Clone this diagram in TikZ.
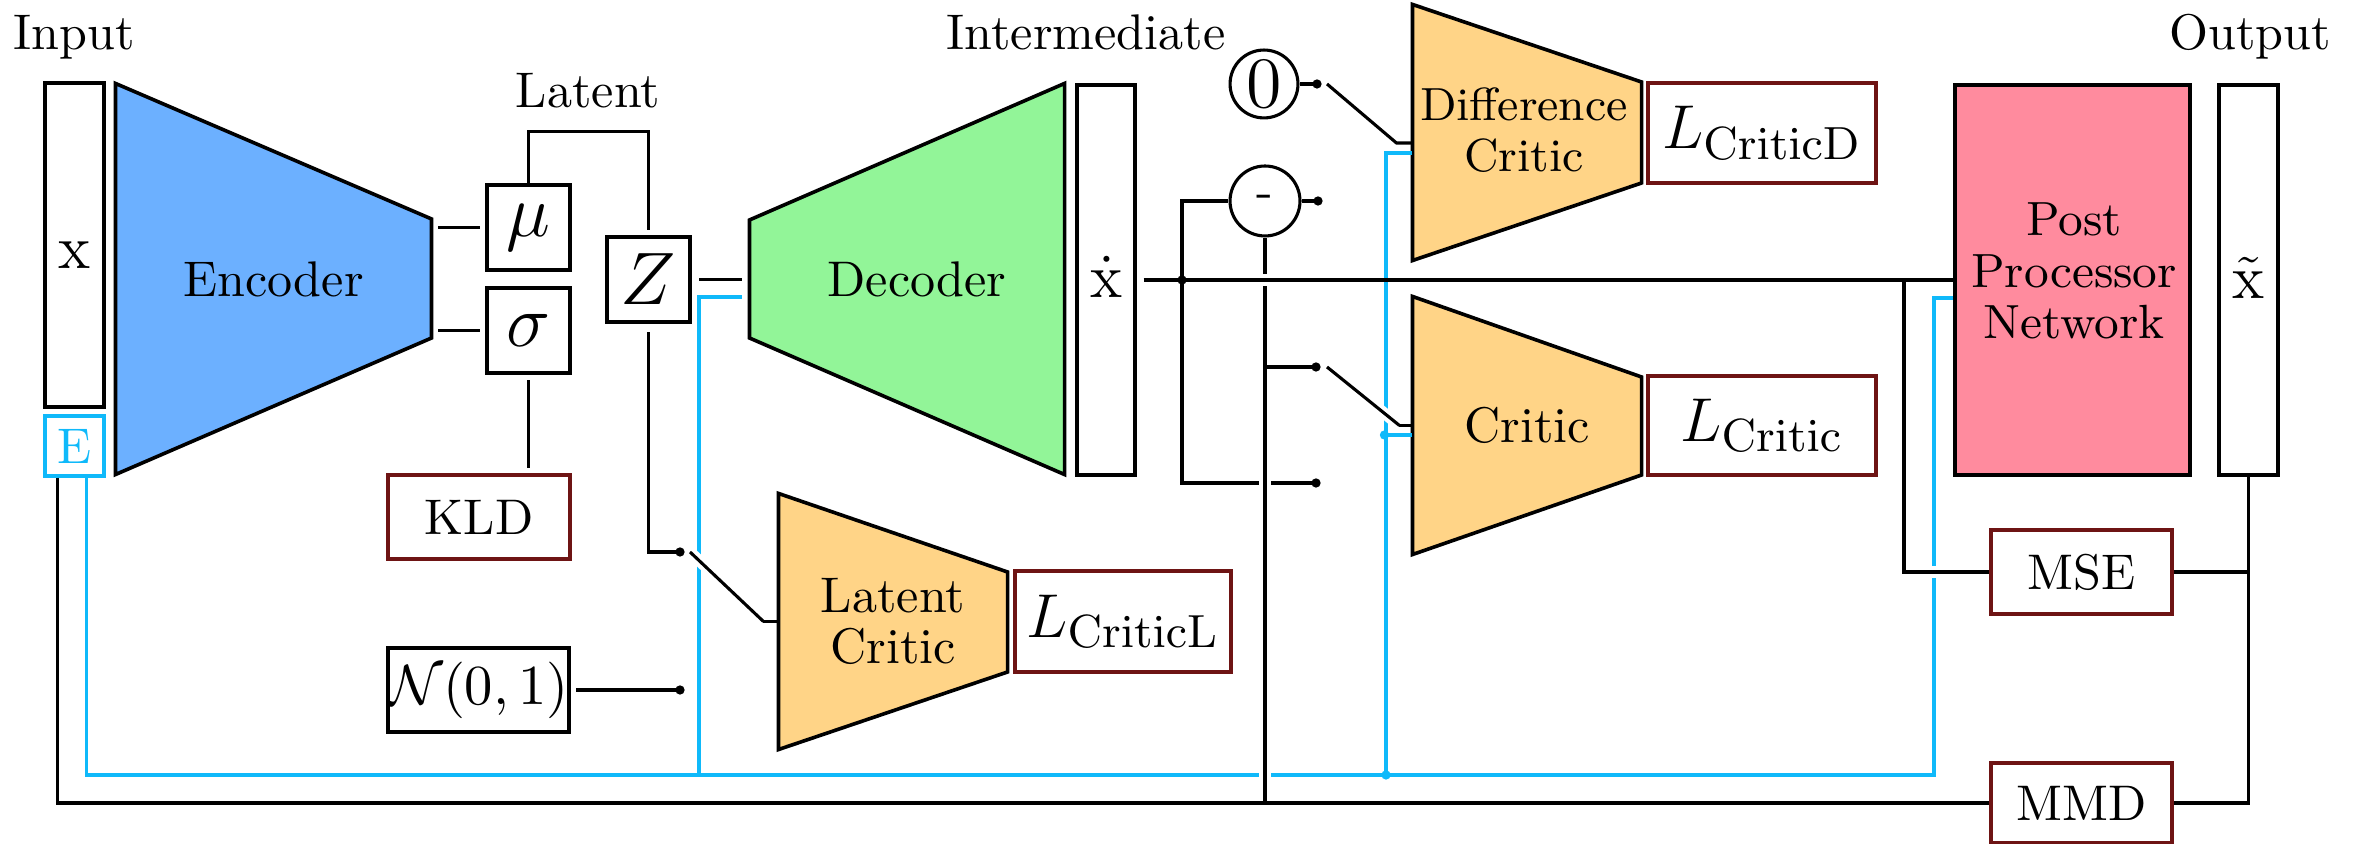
\documentclass[tikz,border=0pt]{standalone}
\usetikzlibrary{fit,calc}
\definecolor{encblue}{RGB}{108,176,255}
\definecolor{decgreen}{RGB}{146,245,152}
\definecolor{critorange}{RGB}{255,212,135}
\definecolor{ppnpink}{RGB}{255,139,158}
\definecolor{cyanc}{RGB}{15,185,250}
\definecolor{lossred}{RGB}{110,20,20}
\newcommand{\crossH}[2]{%
  \draw[white,line width=2.2pt] ($(#1)+(-6,0)$) -- ($(#1)+(6,0)$);
  \draw[#2] ($(#1)+(-8,0)$) -- ($(#1)+(8,0)$);}
\newcommand{\crossV}[2]{%
  \draw[white,line width=2.2pt] ($(#1)+(0,-6)$) -- ($(#1)+(0,6)$);
  \draw[#2] ($(#1)+(0,-8)$) -- ($(#1)+(0,8)$);}
\begin{document}
\begin{tikzpicture}[x=0.0068cm,y=-0.0068cm,line width=0.6pt,
  box/.style={draw,inner sep=0pt,line width=0.6pt},
  sz/.style 2 args={minimum width=#1*0.0068cm,minimum height=#2*0.0068cm},
  lossbox/.style={box,draw=lossred},
  region/.style={inner sep=0pt},
  trap/.style={draw,line width=0.7pt,line join=miter},
  conn/.style={draw=black,line width=0.6pt},
  cyanline/.style={draw=cyanc,line width=0.6pt},
  sgap/.style={shorten <=#1},
  egap/.style={shorten >=#1},
  bridge/.style={preaction={draw=white,line width=2.2pt}},
  txt/.style={font=\fontsize{9.7}{10}\selectfont},
  mathlbl/.style={font=\fontsize{13}{15}\selectfont},
  biglbl/.style={font=\fontsize{15}{17}\selectfont}]
\useasboundingbox (0,0) rectangle (2356,844);

% ---------- trapezoid regions ----------
\node[region,fit={(117,85)(430,473)}] (enc) {};
\node[region,fit={(751,85)(1063,473)}] (dec) {};
\node[region,fit={(780,495)(1006,748)}] (lc) {};
\node[region,fit={(1414,6)(1640,259)}] (dc) {};
\node[region,fit={(1414,298)(1640,553)}] (cr) {};

\draw[trap,fill=encblue] (enc.north west) -- ($(enc.east)+(0,-60)$) -- ($(enc.east)+(0,59)$) -- (enc.south west) -- cycle;
\draw[trap,fill=decgreen] ($(dec.west)+(0,-59)$) -- (dec.north east) -- (dec.south east) -- ($(dec.west)+(0,59)$) -- cycle;
\draw[trap,fill=critorange] (lc.north west) -- ($(lc.east)+(0,-49.5)$) -- ($(lc.east)+(0,50.5)$) -- (lc.south west) -- cycle;
\draw[trap,fill=critorange] (dc.north west) -- ($(dc.east)+(0,-50.5)$) -- ($(dc.east)+(0,50.5)$) -- (dc.south west) -- cycle;
\draw[trap,fill=critorange] (cr.north west) -- ($(cr.east)+(0,-48.5)$) -- ($(cr.east)+(0,49.5)$) -- (cr.south west) -- cycle;

\node[txt] (enclbl) at (enc) {Encoder};
\node[txt] (declbl) at ($(dec)+(10,0)$) {Decoder};
\node[txt,align=center] (lclbl) at (lc) {Latent\\Critic};
\node[font=\fontsize{9}{9.9}\selectfont,align=center] (dclbl) at ($(dc)+(-3,-2)$) {Difference\\Critic};
\node[txt] (crlbl) at (cr) {Critic};

% ---------- titles ----------
\node[txt,anchor=base] (inlbl) at (74,50) {Input};
\node[txt,anchor=base] (latlbl) at (588,108) {Latent};
\node[txt,anchor=base] (intlbl) at (1086,50) {Intermediate};
\node[txt,anchor=base] (outlbl) at (2250,50) {Output};

% ---------- boxes ----------
\node[box,sz={59}{324}] (xin) at (74.5,245) {};
\node[mathlbl,anchor=base] (xinlbl) at (75,269) {$\mathrm{x}$};
\node[box,draw=cyanc,text=cyanc,sz={59}{60},txt] (ein) at (74.5,446) {E};
\node[box,sz={83}{85},biglbl] (mu) at (528.5,227.5) {$\mu$};
\node[box,sz={83}{85},biglbl] (sigma) at (528.5,330.5) {$\sigma$};
\node[box,sz={83}{85},biglbl] (Z) at (648.5,279.5) {$Z$};
\node[lossbox,sz={182}{84},txt] (kld) at (479,517) {KLD};
\node[box,sz={181}{84},font=\fontsize{11}{13}\selectfont] (N) at (478.5,690) {$\mathcal{N}(0,1)$};
\node[lossbox,sz={216}{101},mathlbl] (lcl) at (1123,621.5) {$L_{\mathrm{CriticL}}$};
\node[box,sz={58}{390}] (xdot) at (1106,280) {};
\node[mathlbl,anchor=base] (xdotlbl) at (1107,298) {$\dot{\mathrm{x}}$};
\node[box,circle,minimum size=0.462cm,font=\fontsize{14}{16}\selectfont] (zero) at (1264,84) {0};
\node[box,circle,minimum size=0.476cm,txt] (minus) at (1265,201) {-};
\node[lossbox,sz={228}{100},mathlbl] (lcd) at (1762,133) {$L_{\mathrm{CriticD}}$};
\node[lossbox,sz={228}{99},mathlbl] (lcr) at (1762,425.5) {$L_{\mathrm{Critic}}$};
\node[box,fill=ppnpink,sz={235}{390}] (ppn) at (2072.5,280) {};
\node[align=center,font=\fontsize{9.3}{10}\selectfont] (ppnlbl) at (2074,271) {Post\\Processor\\Network};
\node[box,sz={59}{390}] (xt) at (2248.5,280) {};
\node[mathlbl,anchor=base] (xtlbl) at (2249,299) {$\tilde{\mathrm{x}}$};
\node[lossbox,sz={181}{84},txt] (mse) at (2081.5,572) {MSE};
\node[lossbox,sz={181}{80},txt] (mmd) at (2081.5,803) {MMD};

% ---------- switch points ----------
\coordinate (swl) at (680,552);
\coordinate (swn) at (680,690);
\coordinate (br) at (1182,280);
\coordinate (swd0) at (1317,84);
\coordinate (swd1) at (1318,201);
\coordinate (swc0) at (1316,367);
\coordinate (swc1) at (1316,483);
\coordinate (mbr) at (1904,280);
\coordinate (cybus) at (1934,775);
\coordinate (cyj1) at (699,775);
\coordinate (cyj2) at (1386,775);

% ---------- cyan lines ----------
\draw[cyanline] ($(ein.south west)+(43,0)$) |- (cybus) |- ($(ppn.west)+(0,18)$);
\draw[cyanline,sgap=0.054cm] ($(dec.west)+(0,18)$) -| (cyj1);
\draw[cyanline] ($(dc.west)+(0,20.5)$) -| (cyj2);
\draw[cyanline] ($(cr.west)+(0,9.5)$) -- ($(cr.west)+(-28,9.5)$);

% ---------- black connectors ----------
\draw[conn,sgap=0.045cm,egap=0.035cm] (enc.east |- mu.west) -- (mu.west);
\draw[conn,sgap=0.045cm,egap=0.035cm] (enc.east |- sigma.west) -- (sigma.west);
\draw[conn,egap=0.035cm] (mu.north) -- ++(0,-52) -| (Z.north);
\draw[conn,sgap=0.04cm,egap=0.035cm] (sigma.south) -- (sigma.south |- kld.north);
\draw[conn,sgap=0.054cm,egap=0.054cm] (Z.east) -- (Z.east -| dec.west);
\draw[conn,sgap=0.06cm] (Z.south) |- (swl);
\draw[conn,sgap=0.04cm] (N.east) -- (swn);
\draw[conn,bridge] ($(swl)+(10,0)$) -- ($(lc.west)+(-15,0)$);
\draw[conn] ($(lc.west)+(-15,0)$) -- (lc.west);

\draw[conn,sgap=0.048cm] (xdot.east) -- (ppn.west);
\draw[conn] (br) |- (minus.west);
\draw[conn] (br) |- (swc1);
\draw[conn] (zero.east) -- (swd0);
\draw[conn] (minus.east) -- (swd1);
\draw[conn] (minus.south) -- (minus.south |- mmd.west);
\draw[conn] (minus.south |- swc0) -- (swc0);
\draw[conn] ($(swd0)+(10,0)$) -- ($(dc.west)+(-16,10.5)$) -- ($(dc.west)+(0,10.5)$);
\draw[conn,bridge] ($(swc0)+(11,0)$) -- ($(cr.west)+(-13,0)$);
\draw[conn] ($(cr.west)+(-13,0)$) -- (cr.west);

\draw[conn] (mbr) |- (mse.west);
\draw[conn] (mse.east) -| (xt.south);
\draw[conn] (xt.south) |- (mmd.east);
\draw[conn] ($(ein.south west)+(14,0)$) |- (mmd.west);

% ---------- crossings ----------
\crossH{minus.south |- xdot.east}{conn}
\crossV{minus.south |- swc1}{conn}
\crossV{minus.south |- cybus}{conn}
\crossH{cybus |- mse.west}{conn}

% ---------- dots ----------
\fill (swl) circle (0.9pt);
\fill (swn) circle (0.9pt);
\fill (br) circle (0.9pt);
\fill (swd0) circle (0.9pt);
\fill (swd1) circle (0.9pt);
\fill (swc0) circle (0.9pt);
\fill (swc1) circle (0.9pt);
\fill[cyanc] ($(cr.west)+(-28,9.5)$) circle (0.9pt);
\fill[cyanc] (cyj2) circle (0.9pt);
\end{tikzpicture}
\end{document}
